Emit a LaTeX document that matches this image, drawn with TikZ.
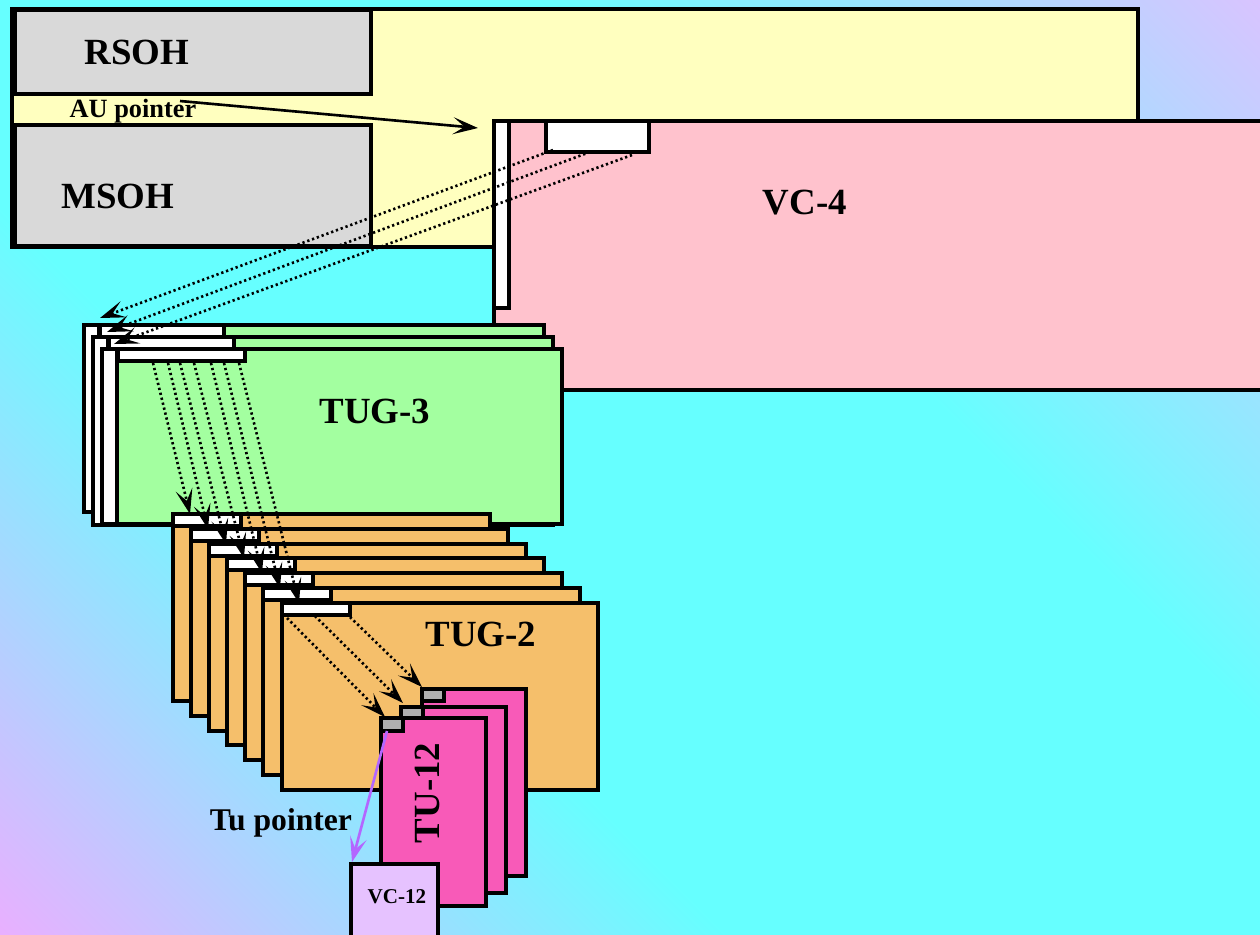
\documentclass[tikz,border=0pt]{standalone}
\usepackage{fontspec}
\setmainfont{Liberation Serif}
\usetikzlibrary{arrows.meta,fit,calc}
\definecolor{bgcyan}{HTML}{66FFFF}
\definecolor{bglav}{HTML}{D8C4FF}
\definecolor{bgpink}{HTML}{E8B0FF}
\definecolor{sohgray}{HTML}{D9D9D9}
\definecolor{stmyellow}{HTML}{FFFFBF}
\definecolor{vcpink}{HTML}{FFC2CD}
\definecolor{tuggreen}{HTML}{A3FFA0}
\definecolor{tugorange}{HTML}{F5BF6B}
\definecolor{tumagenta}{HTML}{F85AB8}
\definecolor{ptrgray}{HTML}{B0B0B0}
\definecolor{vclilac}{HTML}{E6C2FF}
\definecolor{tuviolet}{HTML}{B366FF}
\pgfdeclarehorizontalshading{bgshade}{100bp}{color(0bp)=(bgpink); color(14.6bp)=(bgpink); color(38bp)=(bgcyan); color(62bp)=(bgcyan); color(85.4bp)=(bglav); color(100bp)=(bglav)}
\tikzset{
  framebox/.style={draw=black, line width=2pt, inner sep=0pt, outer sep=0pt},
  stmbox/.style={framebox, fill=stmyellow},
  sohbox/.style={framebox, fill=sohgray},
  vcbox/.style={framebox, fill=vcpink},
  tugthree/.style={framebox, fill=tuggreen},
  tugtwo/.style={framebox, fill=tugorange},
  tubox/.style={framebox, fill=tumagenta},
  vcsmall/.style={framebox, fill=vclilac},
  ptrbox/.style={framebox, fill=white},
  tuptr/.style={framebox, fill=ptrgray},
  biglabel/.style={font=\fontsize{21}{21}\selectfont\bfseries, inner sep=0pt},
  ptrlabel/.style={font=\fontsize{15}{15}\selectfont\bfseries, inner sep=0pt},
  arrowtip/.style={-{Stealth[length=5mm, width=3.4mm, inset=2.3mm]}},
  auarrow/.style={arrowtip, line width=1.5pt, draw=black},
  dotarrow/.style={arrowtip, line width=1.5pt, dash pattern=on 1.3pt off 1.6pt, draw=black},
  tuarrow/.style={arrowtip, line width=1.5pt, draw=tuviolet, fill=tuviolet}
}
\begin{document}
\begin{tikzpicture}[x=0.02cm, y=-0.02cm]
  \useasboundingbox (0,0) rectangle (1260,934);
  \shade[shading=bgshade, shading angle=45] (0,0) rectangle (1260,934);

  % STM-1 frame with overheads
  \node[stmbox, fit={(12,9) (1138,247)}] (stm) {};
  \node[sohbox, fit={(15,10) (371,94)}] (rsoh) {};
  \node[sohbox, fit={(15,125) (371,246)}] (msoh) {};
  \node[biglabel] at (137,52) {RSOH};
  \node[biglabel] at (118,196) {MSOH};
  \node[ptrlabel] (aulabel) at (133,111) {AU pointer};
  \coordinate (ausrc) at (180,101);

  % VC-4
  \node[vcbox, fit={(494,121) (1280,390)}] (vc4) {};
  \node[ptrbox, fit={(494,121) (509,308)}] (vc4col) {};
  \node[ptrbox, fit={(546,121) (649,152)}] (vc4ptr) {};
  \node[biglabel] at (805,203) {VC-4};
  \draw[auarrow] (ausrc) -- ($(vc4col.north west)+(-16,7)$);

  % TUG-3 stack
  \node[tugthree, fit={(84,325) (544,512)}] (tug3a) {};
  \node[ptrbox, fit={(84,325) (99,512)}] (tug3ca) {};
  \node[ptrbox, fit={(100,325) (224,337)}] (tug3pa) {};
  \node[tugthree, fit={(93,337) (553,525)}] (tug3b) {};
  \node[ptrbox, fit={(93,337) (108,525)}] (tug3cb) {};
  \node[ptrbox, fit={(109,337) (234,349)}] (tug3pb) {};
  \node[tugthree, fit={(102,349) (562,524)}] (tug3c) {};
  \node[ptrbox, fit={(102,349) (117,524)}] (tug3cc) {};
  \node[ptrbox, fit={(118,349) (245,361)}] (tug3pc) {};
  \node[biglabel] at (375,411) {TUG-3};

  \draw[dotarrow] ($(vc4ptr.south west)+(7,-2)$) -- ($(tug3pa.north west)+(0,-7)$);
  \draw[dotarrow] ($(vc4ptr.south west)+(44,0)$) -- ($(tug3pb.north west)+(-2,-5)$);
  \draw[dotarrow] ($(vc4ptr.south west)+(86,3)$) -- ($(tug3pc.north west)+(-4,-5)$);

  % TUG-2 stack
  \node[tugtwo, fit={(173,514) (490,701)}] (tug2a) {};
  \node[ptrbox, fit={(173,514) (241,526)}] (tug2pa) {};
  \node[tugtwo, fit={(191,529) (508,716)}] (tug2b) {};
  \node[ptrbox, fit={(191,529) (259,541)}] (tug2pb) {};
  \node[tugtwo, fit={(209,544) (526,731)}] (tug2c) {};
  \node[ptrbox, fit={(209,544) (277,556)}] (tug2pc) {};
  \node[tugtwo, fit={(227,558) (544,745)}] (tug2d) {};
  \node[ptrbox, fit={(227,558) (295,570)}] (tug2pd) {};
  \node[tugtwo, fit={(245,573) (562,760)}] (tug2e) {};
  \node[ptrbox, fit={(245,573) (313,585)}] (tug2pe) {};
  \node[tugtwo, fit={(263,588) (580,775)}] (tug2f) {};
  \node[ptrbox, fit={(263,588) (331,600)}] (tug2pf) {};
  \node[tugtwo, fit={(282,603) (598,790)}] (tug2g) {};
  \node[ptrbox, fit={(282,603) (350,615)}] (tug2pg) {};
  \node[biglabel] at (481,634) {TUG-2};

  \draw[dotarrow] ($(tug3pc.south west)+(35,2)$) -- ($(tug2pa.north west)+(17,0)$);
  \draw[dotarrow] ($(tug3pc.south west)+(50,2)$) -- ($(tug2pb.north west)+(17,0)$);
  \draw[dotarrow] ($(tug3pc.south west)+(62,2)$) -- ($(tug2pc.north west)+(17,0)$);
  \draw[dotarrow] ($(tug3pc.south west)+(76,2)$) -- ($(tug2pd.north west)+(17,0)$);
  \draw[dotarrow] ($(tug3pc.south west)+(93,2)$) -- ($(tug2pe.north west)+(17,0)$);
  \draw[dotarrow] ($(tug3pc.south west)+(106,2)$) -- ($(tug2pf.north west)+(17,0)$);
  \draw[dotarrow] ($(tug3pc.south west)+(121,2)$) -- ($(tug2pg.north west)+(17,0)$);

  % TU-12 stack
  \node[tubox, fit={(422,689) (526,876)}] (tu12a) {};
  \node[tuptr, fit={(422,689) (444,701)}] (tu12pa) {};
  \node[tubox, fit={(401,707) (506,893)}] (tu12b) {};
  \node[tuptr, fit={(401,707) (423,719)}] (tu12pb) {};
  \node[tubox, fit={(381,718) (486,906)}] (tu12c) {};
  \node[tuptr, fit={(381,718) (403,731)}] (tu12pc) {};
  \node[biglabel, rotate=90] at (427,793) {TU-12};

  \draw[dotarrow] ($(tug2pg.south west)+(5,3)$) -- ($(tu12pc.north west)+(4,-1)$);
  \draw[dotarrow] ($(tug2pg.south west)+(33,1)$) -- ($(tu12pb.north west)+(2,-4)$);
  \draw[dotarrow] ($(tug2pg.south west)+(68,2)$) -- ($(tu12pa.north west)+(0,-2)$);

  % VC-12
  \node[vcsmall, fit={(351,864) (438,945)}] (vc12) {};
  \node[font=\fontsize{12}{12}\selectfont\bfseries, inner sep=0pt] at (397,897) {VC-12};
  \node[font=\fontsize{18}{18}\selectfont\bfseries, inner sep=0pt] at (281,823) {Tu pointer};
  \draw[tuarrow] ($(tu12pc.south west)+(6,0)$) -- ($(vc12.north west)+(1,-2)$);
\end{tikzpicture}
\end{document}
